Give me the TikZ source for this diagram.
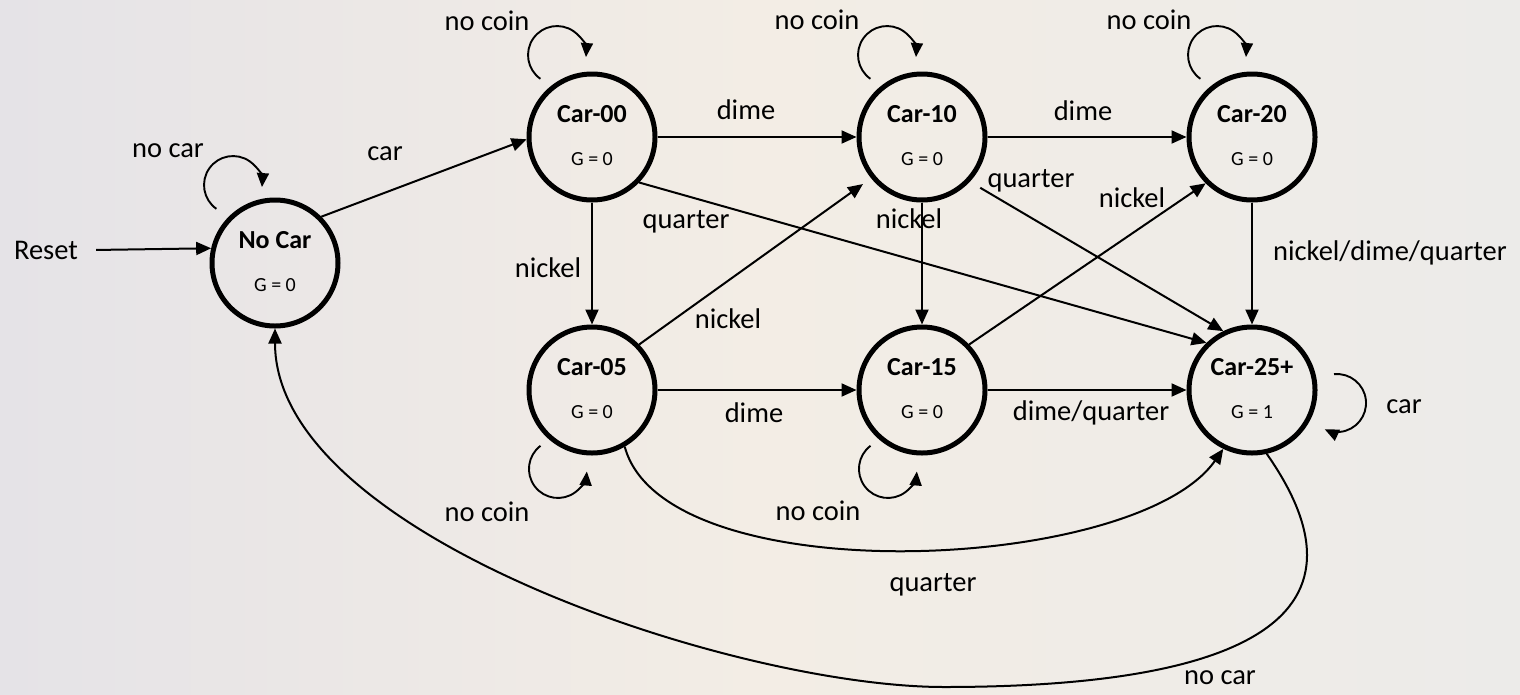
\documentclass[tikz,border=0pt]{standalone}
\usepackage{fontspec}
\setmainfont{Carlito}
\usetikzlibrary{arrows.meta,calc}
\definecolor{bgL}{RGB}{229,227,231}
\definecolor{bgM}{RGB}{243,237,229}
\definecolor{bgR}{RGB}{236,235,233}
\tikzset{
 st/.style={circle,draw=black,line width=5pt,minimum size=126pt,inner sep=0pt},
 ttl/.style={font=\fontsize{26}{30}\selectfont\bfseries,inner sep=0pt,anchor=base},
 gv/.style={font=\fontsize{20}{24}\selectfont,inner sep=0pt,anchor=base},
 lbl/.style={font=\fontsize{28.5}{34}\selectfont,inner sep=0pt,anchor=base},
 edge/.style={line width=2pt,-{Triangle[length=15pt,width=13pt]}},
 lp/.style={line width=1.9pt,-{Triangle[length=14pt,width=12pt]}},
}
\newcommand\mkstate[5]{%
 \node[st] (#1) at (#2,#3) {};
 \node[ttl] (#1t) at ([yshift=15pt]#1.center) {#4};
 \node[gv] (#1g) at ([yshift=-28pt]#1.center) {#5};
}
\begin{document}
\begin{tikzpicture}[x=1pt,y=1pt]
\shade[left color=bgL, right color=bgR, middle color=bgM] (0,0) rectangle (1520,-694);
\useasboundingbox (0,0) rectangle (1520,-694);

\mkstate{nocar}{275}{-263}{No Car}{G = 0}
\mkstate{c00}{592}{-137}{Car-00}{G = 0}
\mkstate{c10}{922}{-137}{Car-10}{G = 0}
\mkstate{c20}{1252}{-137}{Car-20}{G = 0}
\mkstate{c05}{592}{-390}{Car-05}{G = 0}
\mkstate{c15}{922}{-390}{Car-15}{G = 0}
\mkstate{c25}{1252}{-390}{Car-25+}{G = 1}

% labels
\node[lbl] (reset) at (46,-259) {Reset};
\node[lbl] (l1) at (168,-157) {no car};
\node[lbl] (l2) at (385,-160) {car};
\node[lbl] (l3) at (487,-30) {no coin};
\node[lbl] (l4) at (817,-29) {no coin};
\node[lbl] (l5) at (1149,-29) {no coin};
\node[lbl] (l6) at (746,-119) {dime};
\node[lbl] (l7) at (1083,-120) {dime};
\node[lbl] (l8) at (686,-228) {quarter};
\node[lbl] (l9) at (548,-277) {nickel};
\node[lbl] (l10) at (728,-328) {nickel};
\node[lbl] (l11) at (909,-228) {nickel};
\node[lbl] (l12) at (1031,-187) {quarter};
\node[lbl] (l13) at (1132,-207) {nickel};
\node[lbl] (l14) at (1390,-260) {nickel/dime/quarter};
\node[lbl] (l15) at (754,-422) {dime};
\node[lbl] (l16) at (1091,-420) {dime/quarter};
\node[lbl] (l17) at (1404,-413) {car};
\node[lbl] (l18) at (487,-521) {no coin};
\node[lbl] (l19) at (818,-520) {no coin};
\node[lbl] (l20) at (933,-591) {quarter};
\node[lbl] (l21) at (1220,-684) {no car};

% straight edges
\draw[edge] ([xshift=18pt]reset.east) -- (nocar.167);
\draw[edge] (nocar.45) -- (c00.182);
\draw[edge] (c00.east) -- (c10.west);
\draw[edge] (c10.east) -- (c20.west);
\draw[edge] (c00.south) -- (c05.north);
\draw[edge] (c10.south) -- (c15.north);
\draw[edge] (c20.south) -- (c25.north);
\draw[edge] (c05.east) -- (c15.west);
\draw[edge] (c15.east) -- (c25.west);
\draw[edge] (c00.-44) -- (c25.134);
\draw[edge, shorten <=12pt] (c10.-43) -- (c25.116);
\draw[edge, shorten >=10pt] (c05.44) -- (c10.219);
\draw[edge] (c15.44) -- (c20.225);

% curved edges
\draw[edge] (c05.-60) to[out=-75,in=-125,looseness=0.65] (c25.-116);
\coordinate (ncb) at (944,-687);
\draw[edge] (c25.-77) to[out=-55,in=0,looseness=1.5] (ncb) to[out=180,in=-90,looseness=0.7] (nocar.south);

% self loops
\draw[lp] ([shift={(-58.6,54.2)}]nocar.center) arc[start angle=235,end angle=-4,radius=29];
\draw[lp] ([shift={(-51.6,58.2)}]c00.center) arc[start angle=235,end angle=-4,radius=29];
\draw[lp] ([shift={(-51.6,58.2)}]c10.center) arc[start angle=235,end angle=-4,radius=29];
\draw[lp] ([shift={(-51.6,58.2)}]c20.center) arc[start angle=235,end angle=-4,radius=29];
\draw[lp] ([shift={(-51.5,-55.8)}]c05.center) arc[start angle=127,end angle=355,radius=29];
\draw[lp] ([shift={(-51.5,-55.8)}]c15.center) arc[start angle=127,end angle=355,radius=29];
\draw[lp] ([shift={(82,15.8)}]c25.center) arc[start angle=96,end angle=-115,radius=29];
\end{tikzpicture}
\end{document}
